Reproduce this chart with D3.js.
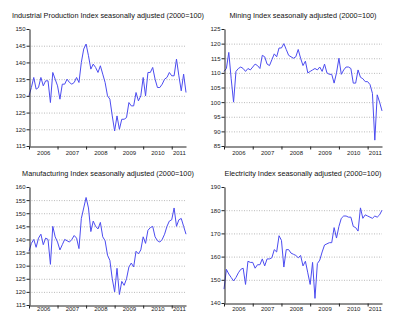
<!DOCTYPE html>
<html><head><meta charset="utf-8">
<script src="https://cdn.jsdelivr.net/npm/d3@7/dist/d3.min.js"></script>
<style>body{margin:0;background:#fff}svg{display:block}text{font-family:"Liberation Sans",Arial,sans-serif}</style>
</head><body><svg id="c" width="400" height="325"></svg>
<script>
const years = ["2006","2007","2008","2009","2010","2011"];
const yearStarts = [0,12,24,36,48,60];
const yearMids = [6,18,30,42,54,63];

const industrial = [130,132.5,135.5,132,132.5,135.5,133,134.5,134.5,128,137,135,133,129,133.5,133.5,135,134,133.5,134,135.5,134,140,144,145.5,142,138,139.5,138.5,137,139,136.5,134,130,129,124,119.5,124,120,123,123,123.5,128,127,127,131,128.5,130,135.5,130,137,137,138.5,135,132.5,132.5,133.5,135,135.5,137,136,136,141,136,131.5,136.5,131];
const mining = [110.5,111.5,117,108,100,110.5,111.5,112,111.5,110.5,111.5,111,112,113,112.5,111.5,116,115.5,113,112.5,114.5,116.5,115.5,118.5,118.5,120,118,116,115.5,115,115.5,118,115,112.5,114,110,110.5,111,111.5,111,112,110.5,113,110,109.5,109.5,106.5,110,115,109.5,111,112,112,111.5,106.5,106.5,111,108.5,108,107,107,106,103,87,102.5,100,97];
const manufacturing = [135.5,138.5,140,137,140.5,142,138,140.5,140,130.5,145,141,139,136,138,140,139.5,139,140,141.5,140.5,136.5,148,152,156,152,143,147,145,144,146.5,141,139.5,134,132,125,120,129,119,124,122.5,125,129.5,131,129.5,135.5,134.5,136,141,138.5,143.5,144.5,145,141,139.5,139,140,142,145,147,147.5,152,145,147.5,148,145,142];
const electricity = [146,154.5,152.5,151,149.5,151,153,154.5,155,148,158,157.5,157.5,155,156.5,156.5,159,156,159,159,159.5,163,162,169,167,155.5,163,163,161.5,161,160.5,159.5,160.5,156,158,153,148,157.5,142,157,158.5,162,165,165.5,166,166,172.5,168,173,176.5,177.5,177.5,177,177,173,172.5,171,181,176.5,178,177.5,177,176.5,177.5,177,178,180];

const titles = ["Industrial Production Index seasonally adjusted (2000=100)","Mining Index seasonally adjusted (2000=100)","Manufacturing Index seasonally adjusted (2000=100)","Electricity Index seasonally adjusted (2000=100)"];
const yTicks1 = [115,120,125,130,135,140,145,150];
const yTicks2 = [85,90,95,100,105,110,115,120,125];
const yTicks3 = [115,120,125,130,135,140,145,150,155,160];
const yTicks4 = [140,150,160,170,180,190];

const panels = [
  {data:industrial, ticks:yTicks1, title:titles[0], x0:29, x1:186, yT:29, yB:146, tx:108, ty:18, ly:156},
  {data:mining, ticks:yTicks2, title:titles[1], x0:224, x1:382, yT:29, yB:146, tx:303, ty:18, ly:156},
  {data:manufacturing, ticks:yTicks3, title:titles[2], x0:29, x1:186, yT:187, yB:305, tx:108, ty:176, ly:312},
  {data:electricity, ticks:yTicks4, title:titles[3], x0:224, x1:382, yT:187, yB:303, tx:303, ty:176, ly:312}
];

const svg = d3.select("#c");
panels.forEach(p => {
  const g = svg.append("g");
  const n = p.data.length;
  const x = d3.scaleLinear().domain([0, n-1]).range([p.x0, p.x1]);
  const y = d3.scaleLinear().domain(d3.extent(p.ticks)).range([p.yB, p.yT]);

  // grid
  g.selectAll("line.grid").data(p.ticks.slice(1, -1)).enter().append("line")
    .attr("x1", p.x0).attr("x2", p.x1)
    .attr("y1", d => y(d)+0.5).attr("y2", d => y(d)+0.5)
    .attr("stroke", "#a8a8a8").attr("stroke-width", 0.8).attr("stroke-dasharray", "1,1.5");

  // line
  g.append("path").datum(p.data)
    .attr("fill","none").attr("stroke","#4c4cf0").attr("stroke-width",1)
    .attr("stroke-linejoin","round")
    .attr("d", d3.line().x((d,i)=>x(i)).y(d=>y(d)));

  // left axis
  const ya = g.append("g").attr("transform", `translate(${p.x0+0.5},0)`)
    .call(d3.axisLeft(y).tickValues(p.ticks).tickSize(3).tickSizeOuter(0).tickPadding(1).tickFormat(d3.format("d")));
  ya.selectAll("text").attr("font-size", 6).attr("fill", "#222").style("font-family", '"Liberation Sans",Arial,sans-serif');
  ya.selectAll("line,path").attr("stroke","#222");

  // bottom axis ticks
  const xa = g.append("g").attr("transform", `translate(0,${p.yB+0.5})`)
    .call(d3.axisBottom(x).tickValues(yearStarts).tickSize(3).tickSizeOuter(0).tickFormat(""));
  xa.selectAll("line,path").attr("stroke","#222");
  // year labels
  const xl = g.append("g").attr("transform", `translate(0,${p.yB})`)
    .call(d3.axisBottom(x).tickValues(yearMids).tickSize(0).tickPadding(p.ly - p.yB - 5).tickFormat((d,i)=>years[i]));
  xl.select(".domain").remove();
  xl.selectAll("text").attr("font-size", 6).attr("fill", "#222").style("font-family", '"Liberation Sans",Arial,sans-serif');

  // title
  g.append("text").attr("x", p.tx).attr("y", p.ty).attr("text-anchor","middle")
    .attr("font-size", 7.3).attr("fill","#111").text(p.title);
});
</script></body></html>
